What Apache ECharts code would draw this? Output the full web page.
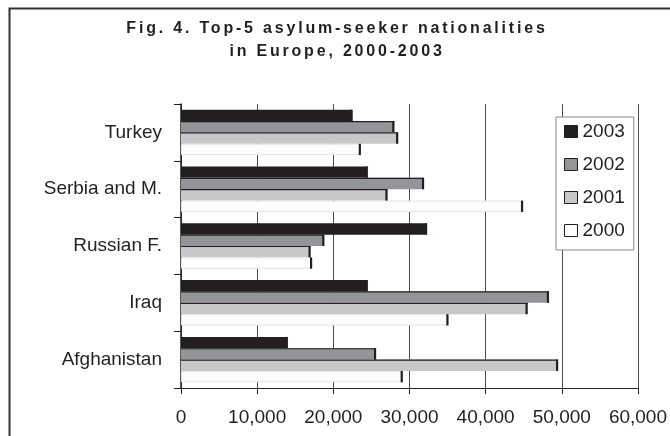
<!DOCTYPE html>
<html>
<head>
<meta charset="utf-8">
<script src="https://cdn.jsdelivr.net/npm/echarts@6/dist/echarts.min.js"></script>
<style>
html,body{margin:0;padding:0;background:#fff;}
#chart{width:670px;height:436px;}
</style>
</head>
<body>
<div id="chart"></div>
<script>
// Categories (bottom to top on the axis)
const categories = ['Afghanistan', 'Iraq', 'Russian F.', 'Serbia and M.', 'Turkey'];
const years = ['2003', '2002', '2001', '2000'];
const v2003 = [14000, 24500, 32300, 24500, 22500];
const v2002 = [25600, 48300, 18800, 31900, 28000];
const v2001 = [49500, 45500, 17000, 27100, 28500];
const v2000 = [29100, 35100, 17200, 44900, 23600];
const xTicks = [0, 10000, 20000, 30000, 40000, 50000, 60000];
const titleLines = ['Fig. 4. Top-5 asylum-seeker nationalities', 'in Europe, 2000-2003'];

const seriesValues = [v2003, v2002, v2001, v2000];
const colors = ['#231f20', '#939598', '#c7c8ca', '#fdfdfd'];
const dark = '#231f20';
const FONT = '"Liberation Sans", Arial, sans-serif';

// Wide letter spacing of the title, as in the reference
(function () {
  const proto = CanvasRenderingContext2D.prototype;
  if (!('letterSpacing' in proto)) return;
  const orig = proto.fillText;
  proto.fillText = function (t, x, y, m) {
    if (titleLines.indexOf(t) >= 0) {
      const prev = this.letterSpacing;
      this.letterSpacing = '2.8px';
      const r = m === undefined ? orig.call(this, t, x, y) : orig.call(this, t, x, y, m);
      this.letterSpacing = prev;
      return r;
    }
    return m === undefined ? orig.call(this, t, x, y) : orig.call(this, t, x, y, m);
  };
})();

const capData = [];
seriesValues.forEach((arr, s) => arr.forEach((v, c) => capData.push([v, c, s])));

const chart = echarts.init(document.getElementById('chart'), null, {renderer: 'canvas'});

const barSeries = years.map((y, s) => ({
  name: y,
  type: 'bar',
  data: seriesValues[s],
  barGap: '0%',
  barCategoryGap: '20%',
  itemStyle: {
    color: colors[s],
    borderColor: s === 3 ? '#e4e4e4' : colors[s],
    borderWidth: s === 3 ? 1 : 0
  },
  emphasis: {disabled: true},
  z: 2
}));

const capSeries = {
  type: 'custom',
  data: capData,
  encode: {x: 0, y: 1},
  z: 3,
  silent: true,
  renderItem: function (params, api) {
    const v = api.value(0), c = api.value(1), s = api.value(2);
    const end = api.coord([v, c]);
    const start = api.coord([0, c]);
    const bandH = api.size([0, 1])[1];
    const bw = bandH * 0.8 / 4;
    const top = end[1] - bandH * 0.4 + s * bw;
    const children = [{
      type: 'rect',
      shape: {x: end[0] - 2, y: top, width: 2.2, height: bw},
      style: {fill: dark}
    }];
    if (s === 1 || s === 2) {
      children.push({
        type: 'line',
        shape: {x1: start[0], y1: top + 0.5, x2: end[0], y2: top + 0.5},
        style: {stroke: dark, lineWidth: 1.2}
      });
    }
    return {type: 'group', children: children};
  }
};

const option = {
  animation: false,
  backgroundColor: '#ffffff',
  title: {
    text: titleLines.join('\n'),
    left: 337,
    top: 17,
    textAlign: 'center',
    padding: 0,
    textStyle: {
      fontFamily: FONT,
      fontWeight: 'bold',
      fontSize: 16,
      lineHeight: 23,
      color: dark
    }
  },
  legend: {
    orient: 'vertical',
    left: 556,
    top: 117,
    padding: [5, 9, 10, 8],
    itemGap: 14,
    itemWidth: 13,
    itemHeight: 12,
    backgroundColor: '#ffffff',
    borderColor: '#888888',
    borderWidth: 1,
    borderRadius: 0,
    selectedMode: false,
    textStyle: {fontFamily: FONT, fontSize: 19, color: dark},
    itemStyle: {borderColor: dark, borderWidth: 1},
    data: years.map(y => ({name: y, icon: 'rect'}))
  },
  grid: {left: 181, right: 29, top: 104, bottom: 48, containLabel: false},
  xAxis: {
    type: 'value',
    min: xTicks[0],
    max: xTicks[xTicks.length - 1],
    interval: 10000,
    axisLine: {show: true, lineStyle: {color: dark, width: 1}},
    axisTick: {show: true, length: 6, lineStyle: {color: dark}},
    axisLabel: {
      margin: 20,
      fontFamily: FONT,
      fontSize: 19,
      color: dark,
      formatter: v => v.toLocaleString('en-US')
    },
    splitLine: {show: true, lineStyle: {color: '#4d4d4d', width: 1}}
  },
  yAxis: {
    type: 'category',
    data: categories,
    axisLine: {show: true, lineStyle: {color: dark, width: 1.5}},
    axisTick: {show: true, length: 7, lineStyle: {color: dark}},
    axisLabel: {margin: 19, fontFamily: FONT, fontSize: 19, color: dark},
    splitLine: {show: false}
  },
  graphic: [{
    type: 'rect',
    left: 7, top: 6,
    shape: {x: 0, y: 0, width: 800, height: 600},
    style: {fill: 'none', stroke: '#333333', lineWidth: 2},
    silent: true,
    z: 0
  }],
  series: barSeries.concat([capSeries])
};

chart.setOption(option);
</script>
</body>
</html>
